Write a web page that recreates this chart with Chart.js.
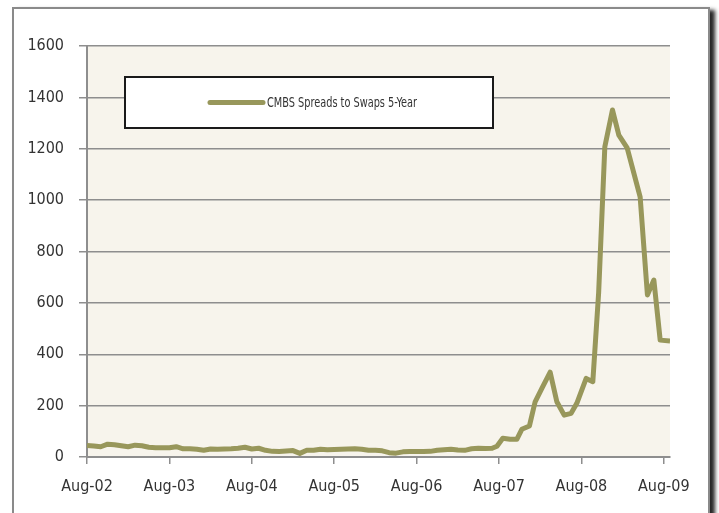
<!DOCTYPE html>
<html>
<head>
<meta charset="utf-8">
<script src="https://cdn.jsdelivr.net/npm/chart.js@4/dist/chart.umd.min.js"></script>
<style>
  html, body { margin: 0; padding: 0; background: #ffffff; overflow: hidden; }
  #wrap { position: relative; width: 719px; height: 513px; }
  #frame {
    position: absolute; left: 12px; top: 7px; width: 694px; height: 600px;
    border: 2px solid #8a8a8a; background: #ffffff;
    box-shadow: 5px 3px 4px rgba(0,0,0,0.85);
  }
  #c { position: absolute; left: 0; top: 0; }
</style>
</head>
<body>
<div id="wrap">
  <div id="frame"></div>
  <canvas id="c" width="719" height="513"></canvas>
</div>
<script>
// ---- data ----
const seriesLabel = 'CMBS Spreads to Swaps 5-Year';
const tickLabels = ['Aug-02', 'Aug-03', 'Aug-04', 'Aug-05', 'Aug-06', 'Aug-07', 'Aug-08', 'Aug-09'];
const tickMonths = [0, 12, 24, 36, 48, 60, 72, 84];
// months since Aug-02
const monthOffsets = [
  0,1,2,3,4,5,6,7,8,9,10,11,
  12,13,14,15,16,17,18,19,20,21,22,23,
  24,25,26,27,28,29,30,31,32,33,34,35,
  36,37,38,39,40,41,42,43,44,45,46,47,
  48,49,50,51,52,53,54,55,56,57,58,59,
  59.7,60.55,61.61,62.59,63.32,64.43,65.26,66.24,67.45,68.42,69.49,70.5,71.33,
  72.69,73.66,74.51,75.41,76.52,77.45,78.66,80.55,81.61,82.55,83.47,84.9
];
// spread in basis points
const spreads = [
  45,43,40,50,48,44,40,46,44,38,36,36,
  36,40,32,32,30,26,31,30,31,32,34,38,
  31,34,26,22,21,23,25,14,26,26,30,28,
  29,30,31,32,30,26,26,24,17,15,20,21,
  21,21,22,26,28,30,27,26,32,34,33,34,
  42,73,69,69,108,121,215,267,330,215,163,170,209,
  306,293,640,1208,1351,1253,1203,1013,631,689,455,452
];
const yMin = 0, yMax = 1600, yStep = 200;
const xMax = 84.9;

const lineColor = '#98975b';
const gridColor = '#8e8e8e';
const textColor = '#333333';
const fontFamily = "'Liberation Sans Narrow', 'DejaVu Sans Condensed', sans-serif";

const points = monthOffsets.map((m, i) => ({ x: m, y: spreads[i] }));

const plotBg = {
  id: 'plotBg',
  beforeDraw(chart) {
    const { ctx, chartArea: a } = chart;
    ctx.save();
    ctx.fillStyle = '#f7f4ec';
    ctx.fillRect(a.left, a.top, a.right - a.left, a.bottom - a.top);
    ctx.restore();
  }
};

const boxLegend = {
  id: 'boxLegend',
  afterDraw(chart) {
    const { ctx, chartArea: a } = chart;
    const ds = chart.data.datasets[0];
    const bx = a.left + 38, by = a.top + 31, bw = 368, bh = 51;
    ctx.save();
    ctx.fillStyle = '#ffffff';
    ctx.fillRect(bx, by, bw, bh);
    ctx.lineWidth = 2;
    ctx.strokeStyle = '#1a1a1a';
    ctx.strokeRect(bx, by, bw, bh);
    const cy = by + bh / 2;
    ctx.beginPath();
    ctx.lineCap = 'round';
    ctx.lineWidth = 5;
    ctx.strokeStyle = ds.borderColor;
    ctx.moveTo(bx + 85, cy);
    ctx.lineTo(bx + 138, cy);
    ctx.stroke();
    ctx.fillStyle = textColor;
    ctx.font = '13.5px ' + fontFamily;
    ctx.textBaseline = 'middle';
    ctx.textAlign = 'left';
    const tx = bx + 142;
    const w = ctx.measureText(ds.label).width;
    const sx = Math.min(1, 150 / w);
    ctx.translate(tx, cy + 1);
    ctx.scale(sx, 1);
    ctx.fillText(ds.label, 0, 0);
    ctx.restore();
  }
};

new Chart(document.getElementById('c'), {
  type: 'line',
  data: {
    datasets: [{
      label: seriesLabel,
      data: points,
      borderColor: lineColor,
      backgroundColor: lineColor,
      borderWidth: 5,
      pointRadius: 0,
      tension: 0,
      borderJoinStyle: 'round',
      borderCapStyle: 'butt',
      fill: false
    }]
  },
  options: {
    responsive: false,
    animation: false,
    devicePixelRatio: 1,
    layout: { padding: { left: 0, right: 49, top: 46, bottom: 0 } },
    plugins: { legend: { display: false }, tooltip: { enabled: false } },
    scales: {
      x: {
        type: 'linear',
        min: 0,
        max: xMax,
        afterBuildTicks(s) { s.ticks = tickMonths.map(v => ({ value: v })); },
        afterFit(s) { s.height = 56; },
        grid: { drawOnChartArea: false, drawTicks: true, tickLength: 7, color: gridColor, lineWidth: 1.5 },
        border: { display: true, color: gridColor, width: 2 },
        ticks: {
          autoSkip: false,
          maxRotation: 0,
          padding: 13,
          color: textColor,
          font: { family: fontFamily, size: 16 },
          callback(v) { const k = tickMonths.indexOf(v); return k >= 0 ? tickLabels[k] : ''; }
        }
      },
      y: {
        min: yMin,
        max: yMax,
        afterFit(s) { s.width = 87; },
        grid: { color: gridColor, lineWidth: 1.5, tickLength: 8 },
        border: { display: true, color: gridColor, width: 2 },
        ticks: {
          stepSize: yStep,
          padding: 15,
          color: textColor,
          font: { family: fontFamily, size: 16 },
          callback(v) { return String(v); }
        }
      }
    }
  },
  plugins: [plotBg, boxLegend]
});
</script>
</body>
</html>
